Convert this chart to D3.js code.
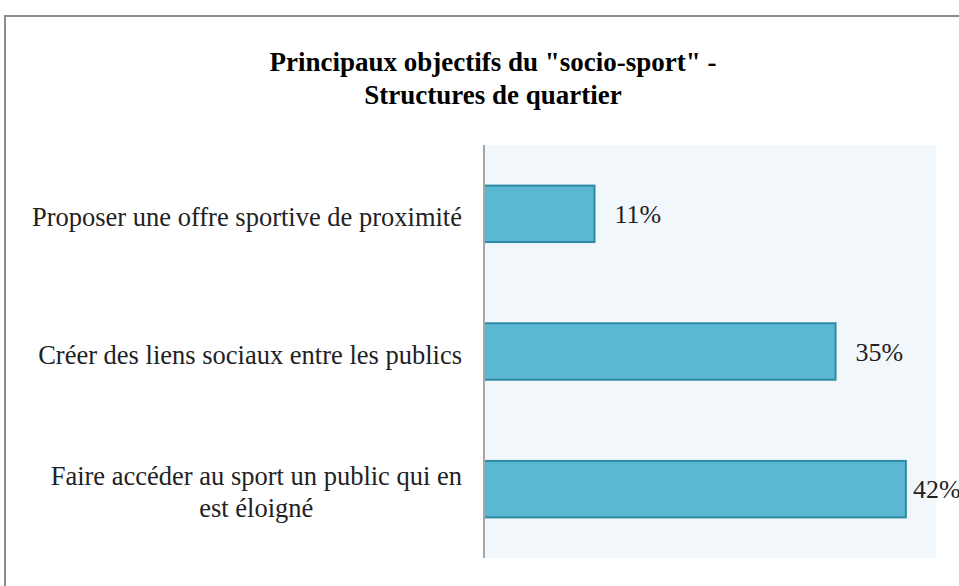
<!DOCTYPE html>
<html>
<head>
<meta charset="utf-8">
<script src="https://cdn.jsdelivr.net/npm/d3@7"></script>
<style>
  body { margin: 0; background: #fff; }
  svg { display: block; font-family: "Liberation Serif", "Times New Roman", serif; }
</style>
</head>
<body>
<svg id="chart" width="959" height="586"></svg>
<script>
// data
var categories = [
    ["Proposer une offre sportive de proximité"],
    ["Créer des liens sociaux entre les publics"],
    ["Faire accéder au sport un public qui en", "est éloigné"]
];
var values = [11, 35, 42];
var titleLines = ['Principaux objectifs du "socio-sport" -', 'Structures de quartier'];

var svg = d3.select("#chart"),
    plotL = 484, plotR = 936, plotT = 145, plotB = 558;

// outer frame (cut off on right and bottom)
svg.append("rect")
    .attr("x", 5).attr("y", 16)
    .attr("width", 1000).attr("height", 700)
    .attr("fill", "none")
    .attr("stroke", "#8c8c8c")
    .attr("stroke-width", 2);

// title
svg.append("text")
    .attr("x", 493).attr("y", 71)
    .attr("text-anchor", "middle")
    .style("font-size", "27px")
    .style("font-weight", "bold")
    .selectAll("tspan")
    .data(titleLines)
    .enter().append("tspan")
    .attr("x", 493)
    .attr("dy", function (d, i) { return i ? 33 : 0; })
    .text(function (d) { return d; });

var x = d3.scaleLinear().domain([0, 45]).range([plotL, plotR]);
var y = d3.scaleBand().domain(d3.range(values.length)).range([plotT, plotB]).paddingInner(0.59).paddingOuter(0.295);

// plot background
svg.append("rect")
    .attr("x", plotL).attr("y", plotT)
    .attr("width", plotR - plotL).attr("height", plotB - plotT)
    .attr("fill", "#f2f7fb");

// bars
svg.selectAll(".bar")
    .data(values)
    .enter().append("rect")
    .attr("class", "bar")
    .attr("x", x(0))
    .attr("y", function (d, i) { return y(i); })
    .attr("width", function (d) { return x(d) - x(0); })
    .attr("height", y.bandwidth())
    .attr("fill", "#5bb8d3")
    .attr("stroke", "#2b8ba3")
    .attr("stroke-width", 2);

// value labels, pushed back in when they would pass the plot edge
svg.selectAll(".val")
    .data(values)
    .enter().append("text")
    .attr("class", "val")
    .attr("x", function (d) { return Math.min(x(d) + 20, plotR - 23); })
    .attr("y", function (d, i) { return y(i) + y.bandwidth() / 2 + 9; })
    .style("font-size", "26px")
    .attr("fill", "#222")
    .text(function (d) { return d + "%"; });

// axis line
var yAxis = d3.axisLeft(y).tickSize(0).tickFormat("");
svg.append("g")
    .attr("transform", "translate(" + plotL + ",0)")
    .call(yAxis)
    .call(function (g) {
        g.select(".domain").attr("stroke", "#a6a6a6").attr("stroke-width", 2)
            .attr("d", "M0," + plotT + "V" + plotB);
    });

// category labels, right aligned block, lines centred within it
var labelRight = 462, lh = 32;
categories.forEach(function (lines, i) {
    var cy = y(i) + y.bandwidth() / 2;
    var t = svg.append("text")
        .attr("text-anchor", "middle")
        .style("font-size", "26.5px")
        .attr("fill", "#222");
    var spans = t.selectAll("tspan").data(lines).enter().append("tspan")
        .text(function (d) { return d; });
    var w = 0;
    spans.each(function () { w = Math.max(w, this.getComputedTextLength()); });
    var cx = labelRight - w / 2;
    var y0 = cy + 12 - (lines.length - 1) * lh / 2;
    spans.attr("x", cx).attr("y", function (d, j) { return y0 + j * lh; });
});
</script>
</body>
</html>
